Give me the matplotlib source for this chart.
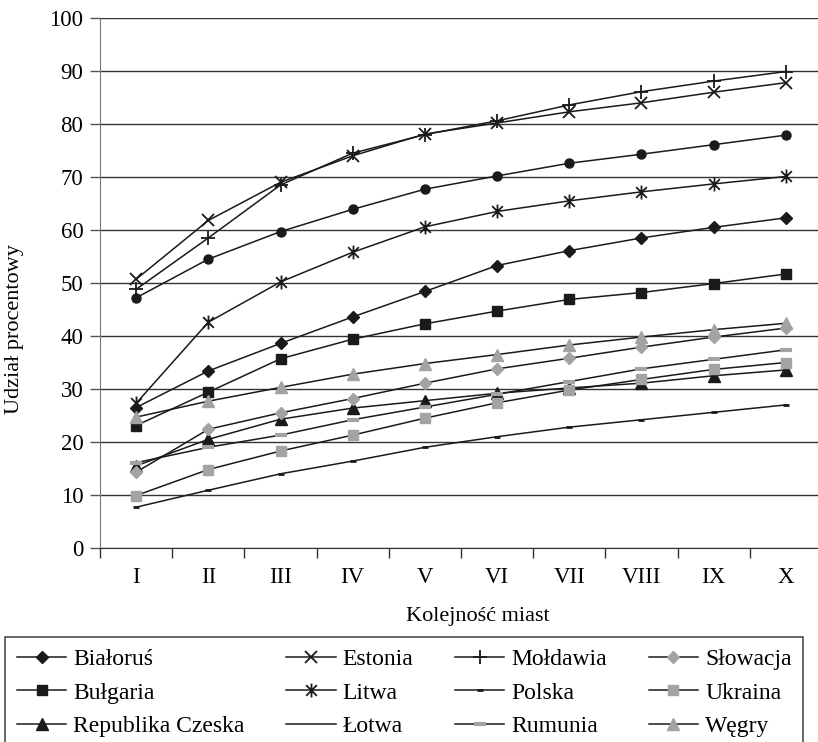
import matplotlib
matplotlib.use("Agg")
import matplotlib.pyplot as plt
from matplotlib.lines import Line2D
from matplotlib.path import Path
import numpy as np

plt.rcParams['font.family'] = ['Liberation Serif', 'DejaVu Serif']

# kolejnosc miast
categories = ["I", "II", "III", "IV", "V", "VI", "VII", "VIII", "IX", "X"]

bialorus = [26.5, 33.4, 38.6, 43.6, 48.4, 53.3, 56.1, 58.5, 60.5, 62.3]
bulgaria = [23.1, 29.4, 35.7, 39.4, 42.3, 44.7, 46.9, 48.2, 49.9, 51.7]
czechy = [15.5, 20.5, 24.3, 26.4, 27.8, 29.2, 30.2, 31.1, 32.5, 33.6]
estonia = [50.7, 61.8, 69.0, 74.0, 78.1, 80.2, 82.3, 84.0, 86.0, 87.8]
litwa = [27.3, 42.6, 50.2, 55.8, 60.6, 63.5, 65.5, 67.2, 68.7, 70.1]
lotwa = [47.2, 54.5, 59.7, 63.9, 67.7, 70.2, 72.6, 74.3, 76.1, 77.9]
moldawia = [48.8, 58.5, 68.5, 74.5, 78.0, 80.6, 83.6, 86.1, 88.1, 89.9]
polska = [7.7, 10.9, 14.0, 16.4, 19.0, 21.0, 22.8, 24.2, 25.6, 27.0]
rumunia = [16.1, 19.0, 21.3, 24.2, 26.6, 29.0, 31.4, 33.8, 35.6, 37.4]
slowacja = [14.3, 22.4, 25.5, 28.2, 31.1, 33.8, 35.8, 37.9, 39.8, 41.5]
ukraina = [9.9, 14.8, 18.3, 21.3, 24.5, 27.4, 29.8, 31.8, 33.7, 35.0]
wegry = [24.7, 27.7, 30.3, 32.8, 34.8, 36.5, 38.3, 39.8, 41.2, 42.4]

# gwiazdka = x + pionowa kreska
star = Path([(-1, -1), (1, 1), (-1, 1), (1, -1), (0, -1.3), (0, 1.3)],
            [Path.MOVETO, Path.LINETO, Path.MOVETO, Path.LINETO, Path.MOVETO, Path.LINETO])

BL = "#1a1a1a"
GR = "#a3a3a3"

series = [
    ("Białoruś", bialorus, dict(marker="D", ms=6, mfc=BL, mec=BL)),
    ("Bułgaria", bulgaria, dict(marker="s", ms=6.5, mfc=BL, mec=BL)),
    ("Republika Czeska", czechy, dict(marker="^", ms=8, mfc=BL, mec=BL)),
    ("Estonia", estonia, dict(marker="x", ms=9, mec=BL, mew=1.3)),
    ("Litwa", litwa, dict(marker=star, ms=10, mec=BL, mew=1.3)),
    ("Łotwa", lotwa, dict(marker="o", ms=6.5, mfc=BL, mec=BL)),
    ("Mołdawia", moldawia, dict(marker="+", ms=10, mec=BL, mew=1.3)),
    ("Polska", polska, dict(marker="_", ms=5, mec=BL, mew=2)),
    ("Rumunia", rumunia, dict(marker="_", ms=9, mec=GR, mew=3)),
    ("Słowacja", slowacja, dict(marker="D", ms=6, mfc=GR, mec=GR)),
    ("Ukraina", ukraina, dict(marker="s", ms=7.5, mfc=GR, mec=GR)),
    ("Węgry", wegry, dict(marker="^", ms=9, mfc=GR, mec=GR)),
]

fig = plt.figure(figsize=(8.18, 7.42), dpi=100)
ax = fig.add_axes([100 / 818, 194 / 742, 722 / 818, 530 / 742])

x = np.arange(1, len(categories) + 1)
handles = []
for name, vals, st in series:
    ax.plot(x, vals, color=BL, lw=1.1, zorder=3, **st)
    if name == "Łotwa":
        # w legendzie oryginalu Lotwa bez znacznika
        h = Line2D([], [], color=BL, lw=1.1)
    else:
        h = Line2D([], [], color=BL, lw=1.1, **st)
    handles.append(h)

ax.set_xlim(0.5, 10.5)
ax.set_ylim(0, 100)
ax.set_yticks(np.arange(0, 101, 10))
ax.set_xticks(x)
ax.set_xticklabels(categories)
ax.set_xticks(np.arange(0.5, 11, 1), minor=True)
ax.tick_params(axis="x", which="major", length=0, pad=14, labelsize=16.5)
ax.tick_params(axis="x", which="minor", length=7, width=1, color="#333333", direction="out")
ax.tick_params(axis="y", length=7, width=1, color="#555555", direction="out", pad=5, labelsize=16.5)
ax.grid(axis="y", color="#333333", lw=1)
ax.set_axisbelow(True)
for s in ["top", "right"]:
    ax.spines[s].set_visible(False)
ax.spines["left"].set_color("#777777")
ax.spines["bottom"].set_color("#333333")

fig.text(15 / 818, 1 - 329 / 742, "Udział procentowy", rotation=90, fontsize=16,
         ha="center", va="center")
fig.text(478 / 818, 1 - 616 / 742, "Kolejność miast", fontsize=16, ha="center", va="center")

leg = fig.legend(handles, [s[0] for s in series], loc="upper left",
                 bbox_to_anchor=(5 / 818, 1 - 637 / 742), ncol=4, fontsize=17,
                 frameon=True, fancybox=False, handlelength=2.1, handletextpad=0.3,
                 columnspacing=1.75, labelspacing=0.5, borderpad=0.5, borderaxespad=0)
leg.get_frame().set_edgecolor("#222222")
leg.get_frame().set_linewidth(1.2)

fig.savefig("out.png", dpi=100)
